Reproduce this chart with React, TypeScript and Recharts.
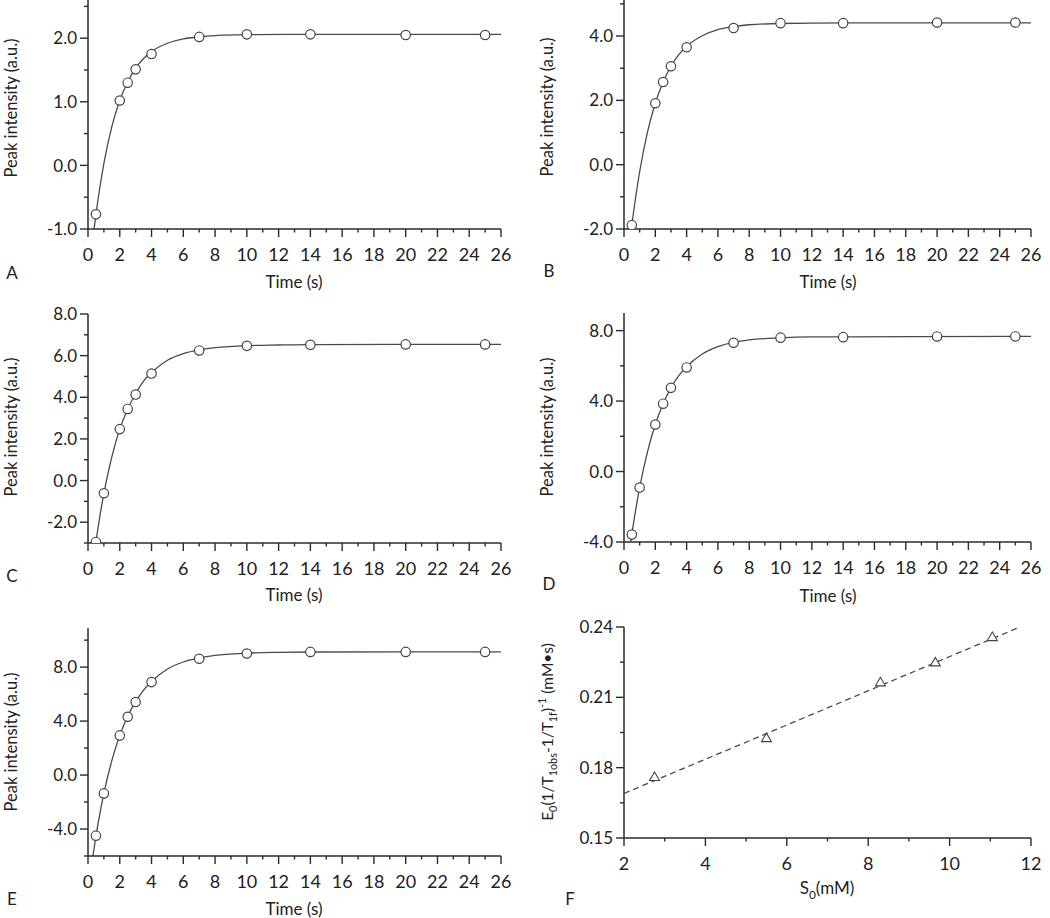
import React from "react";
import { ComposedChart, Line, Scatter, XAxis, YAxis } from "recharts";

const FONT = "Lato, 'Open Sans', sans-serif";
const INK = "#2b2b2b";
const MARK = "#444";

// sampling times (s)
const timesAB = [0.5, 2, 2.5, 3, 4, 7, 10, 14, 20, 25];
const timesCDE = [0.5, 1, 2, 2.5, 3, 4, 7, 10, 14, 20, 25];

// measured peak intensities (a.u.)
const intensityA = [-0.77, 1.02, 1.3, 1.51, 1.75, 2.02, 2.06, 2.06, 2.05, 2.05];
const intensityB = [-1.88, 1.91, 2.57, 3.06, 3.65, 4.25, 4.4, 4.4, 4.42, 4.42];
const intensityC = [-2.95, -0.61, 2.47, 3.44, 4.13, 5.14, 6.25, 6.47, 6.52, 6.54, 6.54];
const intensityD = [-3.58, -0.91, 2.67, 3.85, 4.75, 5.91, 7.31, 7.6, 7.63, 7.67, 7.67];
const intensityE = [-4.49, -1.36, 2.94, 4.32, 5.41, 6.89, 8.62, 9.01, 9.13, 9.13, 9.13];

// fitted recovery curves
const fitTimeA = [0.38, 0.5, 0.75, 1, 1.5, 2, 2.5, 3, 3.5, 4, 5, 6, 7, 8, 10, 14, 26];
const fitA = [-1.0, -0.77, -0.34, 0.03, 0.61, 1.02, 1.31, 1.53, 1.68, 1.79, 1.92, 1.99, 2.02, 2.04, 2.055, 2.06, 2.06];
const fitTimeB = [0.47, 0.75, 1, 1.5, 2, 2.5, 3, 3.5, 4, 5, 6, 7, 8, 10, 14, 26];
const fitB = [-2.0, -0.99, -0.22, 1.01, 1.91, 2.57, 3.06, 3.42, 3.68, 4.01, 4.2, 4.29, 4.35, 4.39, 4.41, 4.41];
const fitTimeC = [0.49, 0.75, 1, 1.5, 2, 2.5, 3, 3.5, 4, 5, 6, 7, 8, 10, 12, 14, 26];
const fitC = [-3.0, -1.7, -0.61, 1.14, 2.47, 3.44, 4.18, 4.78, 5.19, 5.78, 6.1, 6.28, 6.38, 6.48, 6.51, 6.53, 6.54];
const fitTimeD = [0.43, 0.5, 0.75, 1, 1.5, 2, 2.5, 3, 3.5, 4, 5, 6, 7, 8, 10, 12, 14, 26];
const fitD = [-4.0, -3.57, -2.15, -0.91, 1.12, 2.67, 3.85, 4.75, 5.44, 5.95, 6.67, 7.09, 7.33, 7.47, 7.59, 7.64, 7.65, 7.67];
const fitTimeE = [0.31, 0.5, 0.75, 1, 1.5, 2, 2.5, 3, 3.5, 4, 5, 6, 7, 8, 10, 12, 14, 26];
const fitE = [-6.0, -4.53, -2.84, -1.36, 1.07, 2.94, 4.36, 5.44, 6.3, 6.93, 7.86, 8.38, 8.67, 8.87, 9.04, 9.1, 9.12, 9.13];

// panel F
const s0 = [2.75, 5.5, 8.3, 9.65, 11.05];
const e0 = [0.176, 0.1926, 0.2164, 0.2249, 0.2357];
const lineS0 = [2, 11.73];
const lineE0 = [0.169, 0.24];

// ticks
const timeTicks = [0, 1, 2, 3, 4, 5, 6, 7, 8, 9, 10, 11, 12, 13, 14, 15, 16, 17, 18, 19, 20, 21, 22, 23, 24, 25, 26];
const timeMajor = [0, 2, 4, 6, 8, 10, 12, 14, 16, 18, 20, 22, 24, 26];
const s0Ticks = [2, 3, 4, 5, 6, 7, 8, 9, 10, 11, 12];
const s0Major = [2, 4, 6, 8, 10, 12];
const ticksA = [-1, -0.5, 0, 0.5, 1, 1.5, 2, 2.5];
const majorA = [-1, 0, 1, 2];
const ticksB = [-2, -1, 0, 1, 2, 3, 4, 5];
const majorB = [-2, 0, 2, 4];
const ticksC = [-3, -2, -1, 0, 1, 2, 3, 4, 5, 6, 7, 8];
const majorC = [-2, 0, 2, 4, 6, 8];
const ticksD = [-4, -2, 0, 2, 4, 6, 8];
const majorD = [-4, 0, 4, 8];
const ticksE = [-6, -4, -2, 0, 2, 4, 6, 8, 10];
const majorE = [-4, 0, 4, 8];
const ticksF = [0.15, 0.165, 0.18, 0.195, 0.21, 0.225, 0.24];
const majorF = [0.15, 0.18, 0.21, 0.24];

const zip = (xs: number[], ys: number[]) => xs.map((t, i) => ({ t, v: ys[i] }));

const PAD_L = 70;
const PAD_T = 10;
const PAD_R = 20;
const PAD_B = 50;

type Box = { x: number; y: number; w: number; h: number };

const XTick = (major: number[]) => (props: any) => {
  const { x, y, payload } = props;
  const isMajor = major.includes(payload.value);
  return (
    <g>
      <line x1={x} x2={x} y1={y} y2={y + (isMajor ? 8 : 3.5)} stroke={INK} strokeWidth={1.4} />
      {isMajor && (
        <text x={x} y={y + 32} textAnchor="middle" fontSize={18} fontFamily={FONT} fill="#222">
          {payload.value}
        </text>
      )}
    </g>
  );
};

const YTick = (major: number[], digits: number) => (props: any) => {
  const { x, y, payload } = props;
  const isMajor = major.includes(payload.value);
  return (
    <g>
      <line x1={x - (isMajor ? 8 : 4)} x2={x} y1={y} y2={y} stroke={INK} strokeWidth={1.4} />
      {isMajor && (
        <text x={x - 11} y={y} dy="0.36em" textAnchor="end" fontSize={17} fontFamily={FONT} fill="#222">
          {payload.value.toFixed(digits)}
        </text>
      )}
    </g>
  );
};

const circle = (p: any) => (
  <circle cx={p.cx} cy={p.cy} r={4.7} fill="#fff" stroke={MARK} strokeWidth={1.2} />
);
const triangle = (p: any) => (
  <polygon
    points={`${p.cx},${p.cy - 5} ${p.cx - 5},${p.cy + 3.5} ${p.cx + 5},${p.cy + 3.5}`}
    fill="#fff"
    stroke={MARK}
    strokeWidth={1.1}
  />
);

function Panel(props: {
  box: Box;
  xDomain: [number, number];
  xTicks: number[];
  xMajor: number[];
  yDomain: [number, number];
  yTicks: number[];
  yMajor: number[];
  digits: number;
  points: { t: number; v: number }[];
  fit: { t: number; v: number }[];
  dashed?: boolean;
}) {
  const { box } = props;
  return (
    <div style={{ position: "absolute", left: box.x - PAD_L, top: box.y - PAD_T }}>
      <ComposedChart
        width={box.w + PAD_L + PAD_R}
        height={box.h + PAD_T + PAD_B}
        margin={{ top: PAD_T, right: PAD_R, bottom: 0, left: 0 }}
      >
        <XAxis
          type="number"
          dataKey="t"
          domain={props.xDomain}
          ticks={props.xTicks}
          interval={0}
          allowDataOverflow
          height={PAD_B}
          tickSize={0}
          tickMargin={0}
          tickLine={false}
          axisLine={{ stroke: INK, strokeWidth: 1.5 }}
          tick={XTick(props.xMajor)}
        />
        <YAxis
          type="number"
          dataKey="v"
          domain={props.yDomain}
          ticks={props.yTicks}
          interval={0}
          allowDataOverflow
          width={PAD_L}
          tickSize={0}
          tickMargin={0}
          tickLine={false}
          axisLine={{ stroke: INK, strokeWidth: 1.5 }}
          tick={YTick(props.yMajor, props.digits)}
        />
        <Line
          data={props.fit}
          dataKey="v"
          type={props.dashed ? "linear" : "monotone"}
          stroke="#4a4a4a"
          strokeWidth={1.3}
          strokeDasharray={props.dashed ? "6 4" : undefined}
          dot={false}
          activeDot={false}
          isAnimationActive={false}
        />
        <Scatter
          data={props.points}
          dataKey="v"
          shape={props.dashed ? triangle : circle}
          isAnimationActive={false}
        />
      </ComposedChart>
    </div>
  );
}

const Txt = (p: { x: number; y: number; size?: number; rotate?: boolean; children: React.ReactNode }) => (
  <div
    style={{
      position: "absolute",
      left: p.x,
      top: p.y,
      transform: `translate(-50%, -50%)${p.rotate ? " rotate(-90deg)" : ""}`,
      whiteSpace: "nowrap",
      fontFamily: FONT,
      fontSize: p.size ?? 17,
      color: "#222",
      lineHeight: 1,
    }}
  >
    {p.children}
  </div>
);

export default function App() {
  const left = { x: 88, w: 413 };
  const right = { x: 624, w: 407 };
  return (
    <div style={{ position: "absolute", left: 0, top: 0, width: 1050, height: 918, background: "#fff", overflow: "hidden" }}>
      <Panel box={{ ...left, y: 0, h: 229 }} xDomain={[0, 26]} xTicks={timeTicks} xMajor={timeMajor}
        yDomain={[-1, 2.6]} yTicks={ticksA} yMajor={majorA} digits={1}
        points={zip(timesAB, intensityA)} fit={zip(fitTimeA, fitA)} />
      <Panel box={{ ...right, y: 0, h: 229 }} xDomain={[0, 26]} xTicks={timeTicks} xMajor={timeMajor}
        yDomain={[-2, 5.12]} yTicks={ticksB} yMajor={majorB} digits={1}
        points={zip(timesAB, intensityB)} fit={zip(fitTimeB, fitB)} />
      <Panel box={{ ...left, y: 314, h: 229 }} xDomain={[0, 26]} xTicks={timeTicks} xMajor={timeMajor}
        yDomain={[-3, 8]} yTicks={ticksC} yMajor={majorC} digits={1}
        points={zip(timesCDE, intensityC)} fit={zip(fitTimeC, fitC)} />
      <Panel box={{ ...right, y: 313, h: 229 }} xDomain={[0, 26]} xTicks={timeTicks} xMajor={timeMajor}
        yDomain={[-4, 9]} yTicks={ticksD} yMajor={majorD} digits={1}
        points={zip(timesCDE, intensityD)} fit={zip(fitTimeD, fitD)} />
      <Panel box={{ ...left, y: 628, h: 228 }} xDomain={[0, 26]} xTicks={timeTicks} xMajor={timeMajor}
        yDomain={[-6, 10.9]} yTicks={ticksE} yMajor={majorE} digits={1}
        points={zip(timesCDE, intensityE)} fit={zip(fitTimeE, fitE)} />
      <Panel box={{ ...right, y: 627, h: 211 }} xDomain={[2, 12]} xTicks={s0Ticks} xMajor={s0Major}
        yDomain={[0.15, 0.24]} yTicks={ticksF} yMajor={majorF} digits={2}
        points={zip(s0, e0)} fit={zip(lineS0, lineE0)} dashed />

      <Txt x={12} y={272}>A</Txt>
      <Txt x={294} y={281}>Time (s)</Txt>
      <Txt x={11} y={108} size={16.5} rotate>Peak intensity (a.u.)</Txt>

      <Txt x={549} y={270}>B</Txt>
      <Txt x={828} y={281}>Time (s)</Txt>
      <Txt x={547} y={107} size={16.5} rotate>Peak intensity (a.u.)</Txt>

      <Txt x={12} y={575}>C</Txt>
      <Txt x={294} y={594}>Time (s)</Txt>
      <Txt x={11} y={427} size={16.5} rotate>Peak intensity (a.u.)</Txt>

      <Txt x={549} y={583}>D</Txt>
      <Txt x={828} y={595}>Time (s)</Txt>
      <Txt x={547} y={427} size={16.5} rotate>Peak intensity (a.u.)</Txt>

      <Txt x={12} y={898}>E</Txt>
      <Txt x={294} y={908}>Time (s)</Txt>
      <Txt x={11} y={742} size={16.5} rotate>Peak intensity (a.u.)</Txt>

      <Txt x={570} y={898}>F</Txt>
      <Txt x={827} y={890}>S<sub style={{ fontSize: "0.7em" }}>0</sub>(mM)</Txt>
      <Txt x={548} y={732} size={15.5} rotate>
        E<sub style={{ fontSize: "0.7em" }}>0</sub>(1/T<sub style={{ fontSize: "0.7em" }}>1obs</sub>-1/T
        <sub style={{ fontSize: "0.7em" }}>1f</sub>)<sup style={{ fontSize: "0.7em" }}>-1</sup> (mM•s)
      </Txt>
    </div>
  );
}
